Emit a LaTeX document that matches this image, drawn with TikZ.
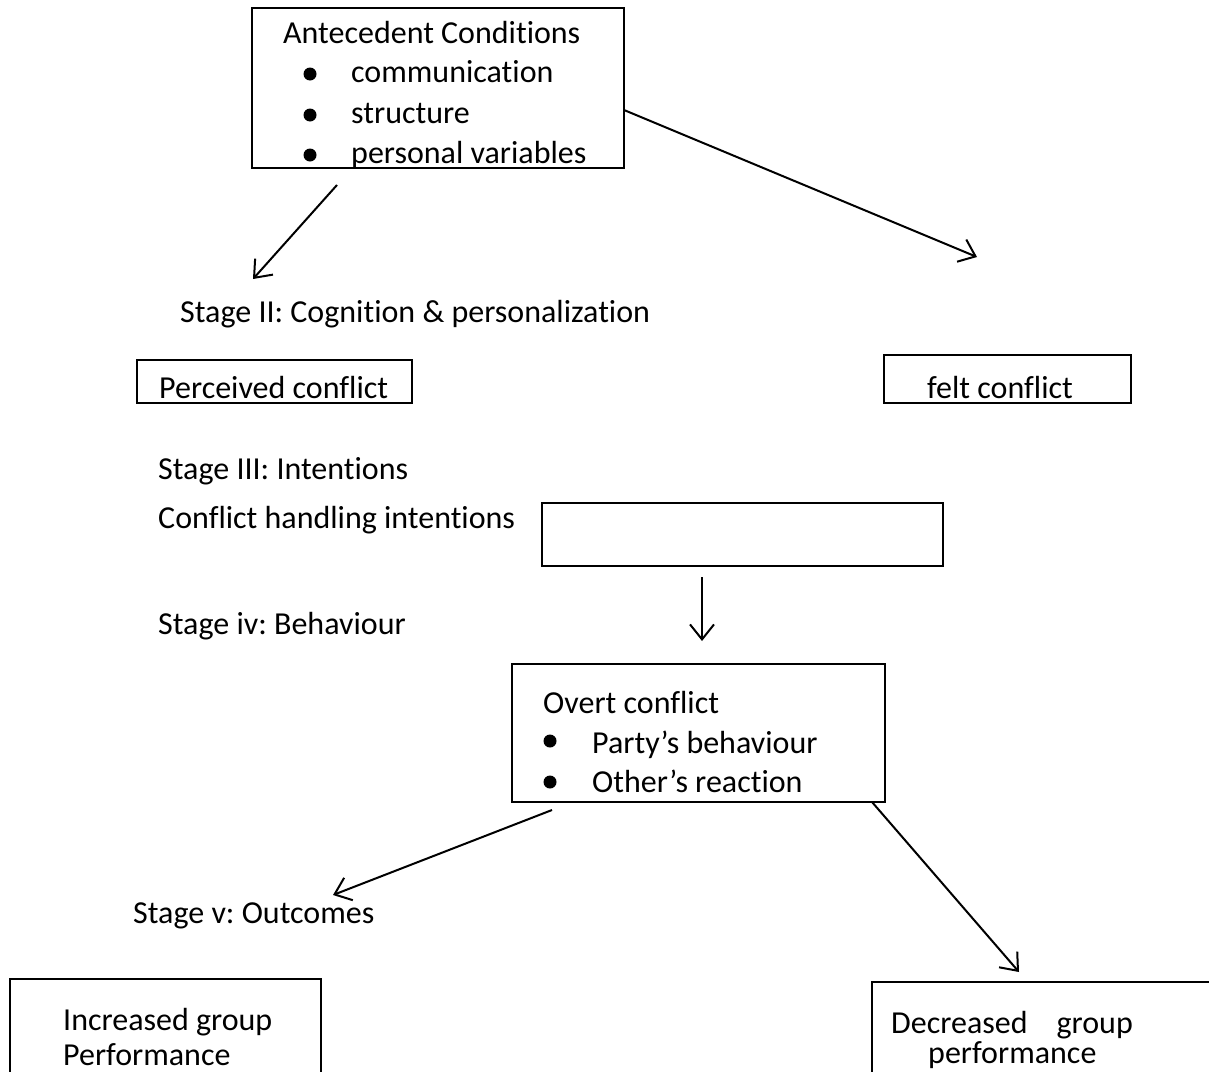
\documentclass[tikz,border=0pt]{standalone}
\usepackage{fontspec}
\setmainfont[Ligatures={NoCommon}]{Carlito}
\usetikzlibrary{arrows.meta}
\frenchspacing
\begin{document}
\begin{tikzpicture}[x=1pt,y=-1pt,
  box/.style={draw, line width=2pt, inner sep=0pt, outer sep=0pt},
  lbl/.style={anchor=base west, inner sep=0pt, font=\fontsize{32}{40}\selectfont},
  arr/.style={-{Straight Barb[length=15pt,width=24pt,line width=2pt]}, line width=2pt},
  dot/.style={circle, fill, inner sep=0pt, minimum size=13pt}]
\clip (0,0) rectangle (1209,1071);
\fill[white] (0,0) rectangle (1209,1071);

% boxes
\node[box, minimum width=372pt, minimum height=160pt] (ante) at (438,88) {};
\node[box, minimum width=275pt, minimum height=43pt] (perc) at (274.5,381.5) {};
\node[box, minimum width=247pt, minimum height=48pt] (felt) at (1007.5,379) {};
\node[box, minimum width=401pt, minimum height=63pt] (hand) at (742.5,534.5) {};
\node[box, minimum width=373pt, minimum height=138pt] (overt) at (698.5,733) {};
\node[box, minimum width=311pt, minimum height=101pt] (incr) at (165.5,1029.5) {};
\node[box, minimum width=348pt, minimum height=98pt] (decr) at (1046,1031) {};

% texts in top box
\node[lbl] (t1) at (283,43) {Antecedent Conditions};
\node[dot] (b1) at (310,74) {};
\node[lbl] (t2) at (351,82) {communication};
\node[dot] (b2) at (310,115) {};
\node[lbl] (t3) at (351,123) {structure};
\node[dot] (b3) at (310,155) {};
\node[lbl] (t4) at (351,163) {personal variables};

% stage labels
\node[lbl] (s2) at (180,322) {Stage II: Cognition \& personalization};
\node[lbl] (tp) at (159,398) {Perceived conflict};
\node[lbl] (tf) at (927,398) {felt conflict};
\node[lbl] (s3) at (158,479) {Stage III: Intentions};
\node[lbl] (ch) at (158,528) {Conflict handling intentions};
\node[lbl] (s4) at (158,634) {Stage iv: Behaviour};

% overt box texts
\node[lbl] (o1) at (543,713) {Overt conflict};
\node[dot] (ob1) at (550,741) {};
\node[lbl] (o2) at (592,753) {Party’s behaviour};
\node[dot] (ob2) at (550,782) {};
\node[lbl] (o3) at (592,792) {Other’s reaction};

\node[lbl] (s5) at (133,923) {Stage v: Outcomes};

\node[lbl] (i1) at (63,1030) {Increased group};
\node[lbl] (i2) at (63,1065) {Performance};
\node[lbl] (d1) at (891,1033) {Decreased\hspace{29pt}group};
\node[lbl] (d2) at (928,1063) {performance};

% connectors
\coordinate (a1s) at (337,185);
\coordinate (a1e) at (253,279);
\draw[arr] (a1s) -- (a1e);
\coordinate (a2e) at (977,257);
\draw[arr] ([yshift=-22pt]ante.east) -- (a2e);
\coordinate (a3s) at (702,577);
\coordinate (a3e) at (702,641);
\draw[arr] (a3s) -- (a3e);
\coordinate (a4s) at (552,810);
\coordinate (a4e) at (333,895);
\draw[arr] (a4s) -- (a4e);
\coordinate (a5s) at (872,802);
\coordinate (a5e) at (1019,972);
\draw[arr] (a5s) -- (a5e);
\end{tikzpicture}
\end{document}
